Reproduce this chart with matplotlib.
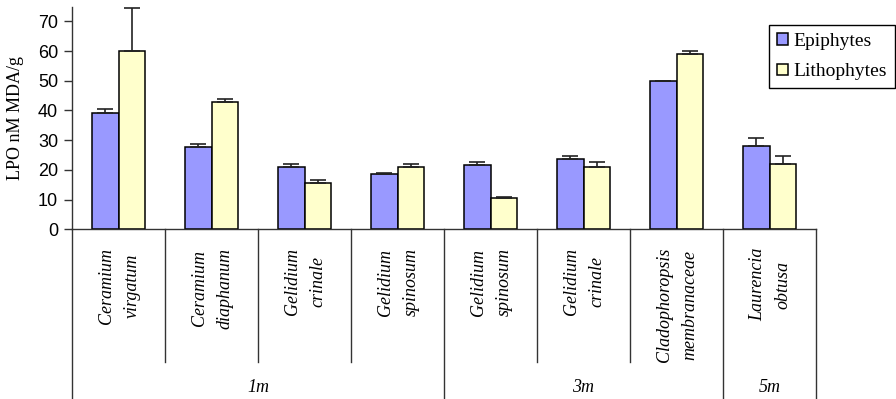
import matplotlib
matplotlib.use("Agg")
import matplotlib.pyplot as plt
import matplotlib.transforms as mtransforms
import numpy as np

# Species (two-line labels), depth groups and measured LPO values
species = ["Ceramium\nvirgatum", "Ceramium\ndiaphanum", "Gelidium\ncrinale",
           "Gelidium\nspinosum", "Gelidium\nspinosum", "Gelidium\ncrinale",
           "Cladophoropsis\nmembranaceae", "Laurencia\nobtusa"]
depths = ["1m", "3m", "5m"]
species_per_depth = [4, 3, 1]

epiphytes = [39.3, 27.8, 21.1, 18.6, 21.6, 23.6, 49.9, 28.1]
epiphytes_err = [1.1, 0.9, 1.0, 0.5, 1.0, 1.1, 0.1, 2.7]
lithophytes = [59.9, 42.8, 15.7, 21.1, 10.5, 21.1, 58.9, 22.1]
lithophytes_err = [14.5, 1.1, 0.9, 1.0, 0.5, 1.7, 1.0, 2.7]

serif = ["Liberation Serif", "DejaVu Serif"]
sans = ["Liberation Sans", "DejaVu Sans"]

fig = plt.figure(figsize=(8.96, 3.99), dpi=100)
ax = fig.add_axes([72 / 896, 1 - 229.3 / 399, (816 - 72) / 896, (229.3 - 6.5) / 399])

x = np.arange(len(species))
w = 0.28
err_kw = dict(ecolor="#222222", elinewidth=1.2, capsize=6, capthick=1.2)
ax.bar(x - w / 2, epiphytes, w, color="#9999FF", edgecolor="black", linewidth=1.1,
       yerr=[np.zeros(len(x)), epiphytes_err], error_kw=err_kw, label="Epiphytes", zorder=2)
ax.bar(x + w / 2, lithophytes, w, color="#FFFFCC", edgecolor="black", linewidth=1.1,
       yerr=[np.zeros(len(x)), lithophytes_err], error_kw=err_kw, label="Lithophytes", zorder=2)

ax.set_xlim(-0.5, len(species) - 0.5)
ax.set_ylim(0, 75)
ax.set_yticks(np.arange(0, 71, 10))
ax.set_xticks([])
for s in ["top", "right"]:
    ax.spines[s].set_visible(False)
for s in ["left", "bottom"]:
    ax.spines[s].set_color("#333333")
    ax.spines[s].set_linewidth(1.0)
ax.tick_params(axis="y", direction="out", length=6, width=1, color="#333333", pad=4)
for lab in ax.get_yticklabels():
    lab.set_fontfamily(sans)
    lab.set_fontsize(13)

# Y-axis title placed in figure coordinates
fig.text(15 / 896, 1 - 118 / 399, "LPO nM MDA/g", rotation=90, ha="center", va="center",
         fontfamily=serif, fontsize=13)

# Category axis: species labels, dividers and depth groups below the plot
trans = mtransforms.blended_transform_factory(ax.transData, fig.transFigure)
y_axis = 1 - 229.3 / 399
y_short = 1 - 362 / 399
y_bottom = 0.0

for i, name in enumerate(species):
    ax.text(i + 0.01, 1 - 248 / 399, name, transform=trans, rotation=90, ha="center", va="top",
            multialignment="center", fontfamily=serif, fontstyle="italic", fontsize=13,
            linespacing=1.65)

bounds = np.concatenate([[0], np.cumsum(species_per_depth)]) - 0.5
for b in np.arange(len(species) + 1) - 0.5:
    bottom = y_bottom if np.any(np.isclose(bounds, b)) else y_short
    ax.plot([b, b], [y_axis, bottom], transform=trans, color="#333333", lw=1.0, clip_on=False)

for d, lo, hi in zip(depths, bounds[:-1], bounds[1:]):
    ax.text((lo + hi) / 2, 1 - 388 / 399, d, transform=trans, ha="center", va="center",
            fontfamily=serif, fontstyle="italic", fontsize=13)

leg = fig.legend(loc="upper right", bbox_to_anchor=(895 / 896, 1 - 25 / 399),
                 borderaxespad=0, fancybox=False, framealpha=1, edgecolor="black",
                 prop={"family": serif, "size": 14}, handlelength=0.55, handleheight=0.55,
                 handletextpad=0.3, borderpad=0.4, labelspacing=0.7)
leg.get_frame().set_linewidth(1.0)

fig.savefig("out.png", dpi=100)
